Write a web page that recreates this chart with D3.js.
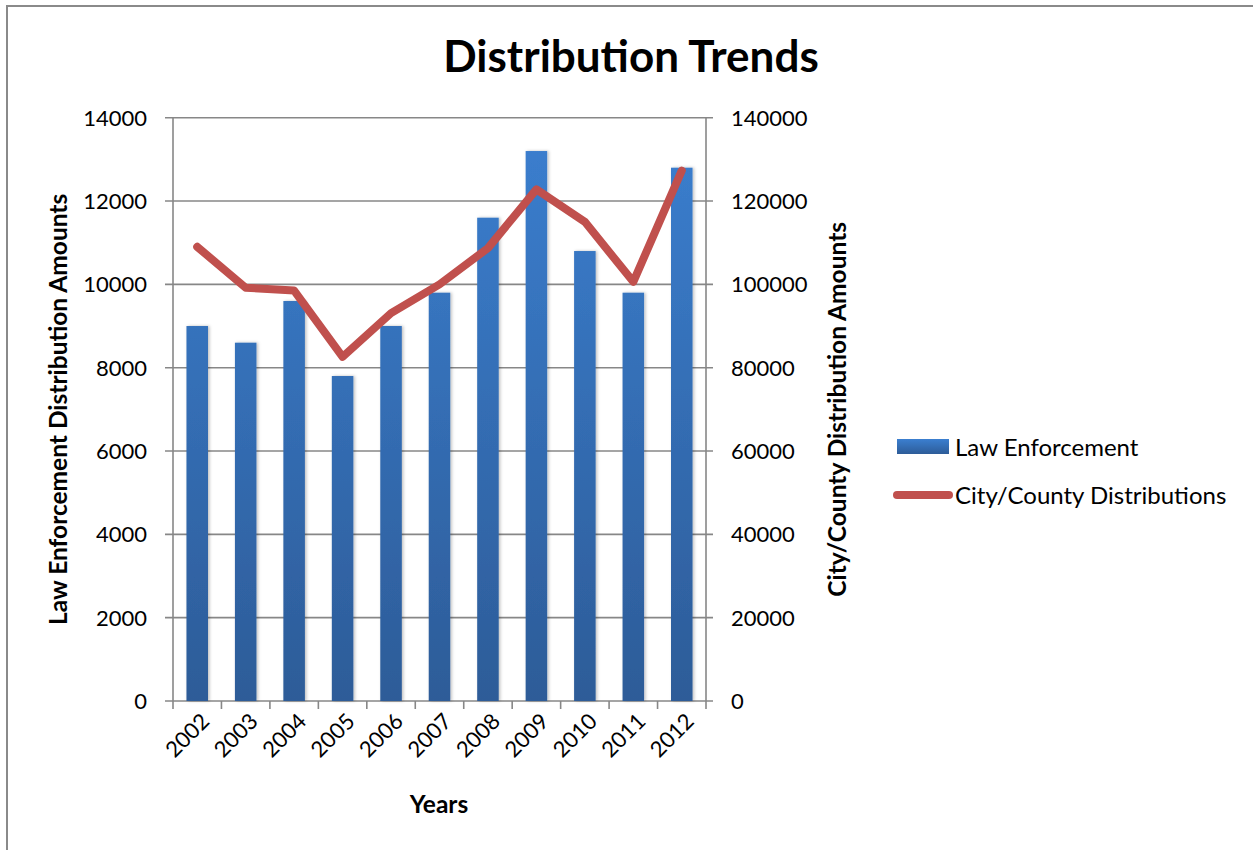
<!DOCTYPE html>
<html>
<head>
<meta charset="utf-8">
<script src="https://cdn.jsdelivr.net/npm/d3@7"></script>
<style>
  html, body { margin: 0; padding: 0; background: #fff; }
  svg { display: block; }
  text { font-family: Lato, "Open Sans", sans-serif; fill: #000; }
</style>
</head>
<body>
<svg id="chart" width="1253" height="850"></svg>
<script>
// Data
const years = ["2002","2003","2004","2005","2006","2007","2008","2009","2010","2011","2012"];
const lawEnforcement = [9000, 8600, 9600, 7800, 9000, 9800, 11600, 13200, 10800, 9800, 12800];
const cityCounty = [109000, 99200, 98500, 82600, 93100, 100000, 108700, 122800, 115000, 100600, 127300];
const leftTicks = [0, 2000, 4000, 6000, 8000, 10000, 12000, 14000];
const rightTicks = [0, 20000, 40000, 60000, 80000, 100000, 120000, 140000];

const svg = d3.select("#chart");
const plot = { left: 173, right: 706, top: 117.7, bottom: 701 };
const gridColor = "#878787";

// Outer chart frame
svg.append("rect")
  .attr("x", 7).attr("y", 6).attr("width", 1260).attr("height", 860)
  .attr("fill", "#fff").attr("stroke", "#8a8a8a").attr("stroke-width", 2);

const x = d3.scaleBand().domain(years).range([plot.left, plot.right]).paddingInner(0).paddingOuter(0);
const yL = d3.scaleLinear().domain([0, 14000]).range([plot.bottom, plot.top]);
const yR = d3.scaleLinear().domain([0, 140000]).range([plot.bottom, plot.top]);

// Title
svg.append("text")
  .attr("x", 631).attr("y", 72)
  .attr("text-anchor", "middle")
  .attr("font-size", 44).attr("font-weight", "bold")
  .text("Distribution Trends");

// Horizontal gridlines (extend across the tick marks on both sides)
svg.append("g").selectAll("line").data(leftTicks).join("line")
  .attr("x1", plot.left - 8).attr("x2", plot.right + 7)
  .attr("y1", d => yL(d)).attr("y2", d => yL(d))
  .attr("stroke", gridColor).attr("stroke-width", 1.6);

// Gradient for bars
const defs = svg.append("defs");
const grad = defs.append("linearGradient").attr("id", "barGrad")
  .attr("gradientUnits", "userSpaceOnUse")
  .attr("x1", 0).attr("x2", 0).attr("y1", plot.top).attr("y2", plot.bottom);
grad.append("stop").attr("offset", "0%").attr("stop-color", "#3b7fd0");
grad.append("stop").attr("offset", "100%").attr("stop-color", "#2d5c98");

const legGrad = defs.append("linearGradient").attr("id", "legGrad")
  .attr("x1", 0).attr("y1", 0).attr("x2", 0).attr("y2", 1);
legGrad.append("stop").attr("offset", "0%").attr("stop-color", "#3b7fd0");
legGrad.append("stop").attr("offset", "100%").attr("stop-color", "#2d5c98");

const shadow = defs.append("filter").attr("id", "barShadow")
  .attr("x", "-30%").attr("y", "-5%").attr("width", "160%").attr("height", "110%");
shadow.append("feDropShadow").attr("dx", 1.5).attr("dy", 0).attr("stdDeviation", 1.5)
  .attr("flood-color", "#000").attr("flood-opacity", 0.25);

// Bars: Law Enforcement on the left axis
const barW = x.bandwidth() / 2.25;
svg.append("g").selectAll("rect").data(years).join("rect")
  .attr("x", (d) => x(d) + (x.bandwidth() - barW) / 2)
  .attr("width", barW)
  .attr("y", (d, i) => yL(lawEnforcement[i]))
  .attr("height", (d, i) => plot.bottom - yL(lawEnforcement[i]))
  .attr("fill", "url(#barGrad)")
  .attr("filter", "url(#barShadow)");

// Axes lines
const axisG = svg.append("g").attr("stroke", gridColor).attr("stroke-width", 1.6);
axisG.append("line").attr("x1", plot.left).attr("x2", plot.left).attr("y1", plot.top).attr("y2", plot.bottom);
axisG.append("line").attr("x1", plot.right).attr("x2", plot.right).attr("y1", plot.top).attr("y2", plot.bottom);
// x-axis tick marks at category boundaries
const bounds = years.map(d => x(d)).concat([plot.right]);
axisG.selectAll(".xt").data(bounds).join("line")
  .attr("x1", d => d).attr("x2", d => d)
  .attr("y1", plot.bottom).attr("y2", plot.bottom + 8);

// Line: City/County Distributions on the right axis
const line = d3.line()
  .x((d, i) => x(years[i]) + x.bandwidth() / 2)
  .y(d => yR(d));
svg.append("path").datum(cityCounty)
  .attr("d", line)
  .attr("fill", "none")
  .attr("stroke", "#c0504d")
  .attr("stroke-width", 8)
  .attr("stroke-linejoin", "round")
  .attr("stroke-linecap", "round");

// Left tick labels
svg.append("g").selectAll("text").data(leftTicks).join("text")
  .attr("x", 147).attr("y", d => yL(d))
  .attr("dy", "0.36em")
  .attr("text-anchor", "end")
  .attr("font-size", 22)
  .text(d => d);

// Right tick labels
svg.append("g").selectAll("text").data(rightTicks).join("text")
  .attr("x", 731).attr("y", d => yR(d))
  .attr("dy", "0.36em")
  .attr("text-anchor", "start")
  .attr("font-size", 22)
  .text(d => d);

// Year labels, rotated
svg.append("g").selectAll("text").data(years).join("text")
  .attr("transform", d => `translate(${x(d) + x.bandwidth() / 2 + 8},${plot.bottom + 16}) rotate(-45)`)
  .attr("text-anchor", "end")
  .attr("dy", "0.36em")
  .attr("font-size", 22)
  .text(d => d);

// Axis titles
svg.append("text")
  .attr("transform", `translate(67,${(plot.top + plot.bottom) / 2}) rotate(-90)`)
  .attr("text-anchor", "middle")
  .attr("font-size", 24.5).attr("font-weight", "bold")
  .text("Law Enforcement Distribution Amounts");

svg.append("text")
  .attr("transform", `translate(846,${(plot.top + plot.bottom) / 2}) rotate(-90)`)
  .attr("text-anchor", "middle")
  .attr("font-size", 24.5).attr("font-weight", "bold")
  .text("City/County Distribution Amounts");

svg.append("text")
  .attr("x", 439).attr("y", 813)
  .attr("text-anchor", "middle")
  .attr("font-size", 24.5).attr("font-weight", "bold")
  .text("Years");

// Legend
const legend = svg.append("g");
legend.append("rect")
  .attr("x", 897).attr("y", 439).attr("width", 52).attr("height", 15)
  .attr("fill", "url(#legGrad)");
legend.append("text")
  .attr("x", 955).attr("y", 447).attr("dy", "0.36em")
  .attr("font-size", 24).text("Law Enforcement");
legend.append("line")
  .attr("x1", 897).attr("x2", 949).attr("y1", 495).attr("y2", 495)
  .attr("stroke", "#c0504d").attr("stroke-width", 8).attr("stroke-linecap", "round");
legend.append("text")
  .attr("x", 955).attr("y", 495).attr("dy", "0.36em")
  .attr("font-size", 24).text("City/County Distributions");
</script>
</body>
</html>
